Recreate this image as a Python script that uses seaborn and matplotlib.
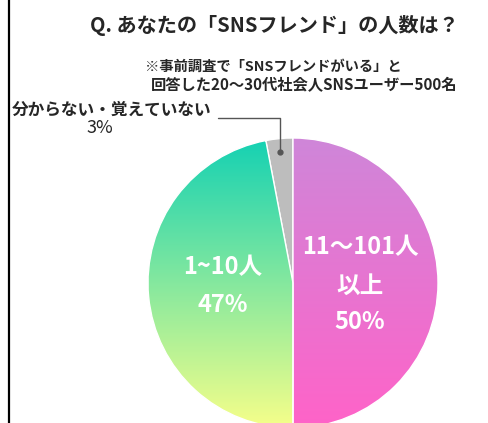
import numpy as np
import matplotlib
matplotlib.use("Agg")
import matplotlib.pyplot as plt
from matplotlib.colors import LinearSegmentedColormap
import seaborn as sns

sns.set_theme(style="white")
plt.rcParams['font.family'] = ['Noto Sans CJK JP', 'DejaVu Sans']

# Data
categories = ["11～101人\n以上", "1~10人", "分からない・覚えていない"]
values = [50, 47, 3]
pct_labels = ["50%", "47%", "3%"]
title = "Q. あなたの「SNSフレンド」の人数は？"
note_lines = ["※事前調査で「SNSフレンドがいる」と", "回答した20～30代社会人SNSユーザー500名"]

W, H = 488, 423
fig = plt.figure(figsize=(W / 100, H / 100), dpi=100)
fig.patch.set_facecolor("white")

cx, cy, R = 293, 283, 145
pad = 150
ax = fig.add_axes([(cx - pad) / W, (H - cy - pad) / H, 2 * pad / W, 2 * pad / H])
wedges, _ = ax.pie(values, startangle=90, counterclock=False,
                   colors=["#e070d0", "#60e0c0", "#bdbdbd"],
                   wedgeprops=dict(edgecolor="white", linewidth=1.0))

grads = [("#cf86d9", "#ff63c8"), ("#14d1b3", "#f6ff8a"), None]
for w, g in zip(wedges, grads):
    if g is None:
        continue
    cmap = LinearSegmentedColormap.from_list("g", [g[0], g[1]])
    grad = np.linspace(0, 1, 256).reshape(-1, 1)
    im = ax.imshow(grad, cmap=cmap, extent=[-1, 1, -1, 1], origin="upper",
                   aspect="auto", zorder=w.get_zorder() + 0.1)
    im.set_clip_path(w)
    w.set_facecolor("none")
    w.set_zorder(w.get_zorder() + 0.2)
lim = pad / R
ax.set_xlim(-lim, lim)
ax.set_ylim(-lim, lim)
ax.set_aspect("equal")
ax.axis("off")

def px(x, y):
    return (x - cx) / R, (cy - y) / R

inner = dict(color="white", fontsize=17, fontweight="bold", ha="center", va="center", zorder=10)
l1, l2 = categories[0].split("\n")
ax.text(*px(360, 247), l1, **inner)
ax.text(*px(360, 286), l2, **inner)
ax.text(*px(360, 322), pct_labels[0], **inner)
ax.text(*px(223, 267), categories[1], **inner)
ax.text(*px(223, 305), pct_labels[1], **inner)

# title and note
fig.text(274 / W, 1 - 26 / H, title, fontsize=14.5, fontweight="bold", ha="center", va="center")
fig.text(145 / W, 1 - 67 / H, note_lines[0], fontsize=10.3, fontweight="bold", ha="left", va="center")
fig.text(151 / W, 1 - 85 / H, note_lines[1], fontsize=11, fontweight="bold", ha="left", va="center")

# small slice label with leader line
fig.text(12 / W, 1 - 110 / H, categories[2], fontsize=12, fontweight="bold", ha="left", va="center")
fig.text(100 / W, 1 - 128 / H, pct_labels[2], fontsize=13, ha="center", va="center")
fig.add_artist(plt.Line2D([218 / W, 280 / W, 280 / W], [1 - 118 / H, 1 - 118 / H, 1 - 152 / H],
                          color="#555555", lw=1.0, transform=fig.transFigure))
fig.add_artist(plt.Line2D([280 / W], [1 - 152 / H], marker="o", markersize=3.5,
                          color="#555555", transform=fig.transFigure))

# left border
fig.add_artist(plt.Line2D([9 / W, 9 / W], [0, 1], color="black", lw=1.6,
                          transform=fig.transFigure))

fig.savefig("out.png", dpi=100, facecolor="white")
